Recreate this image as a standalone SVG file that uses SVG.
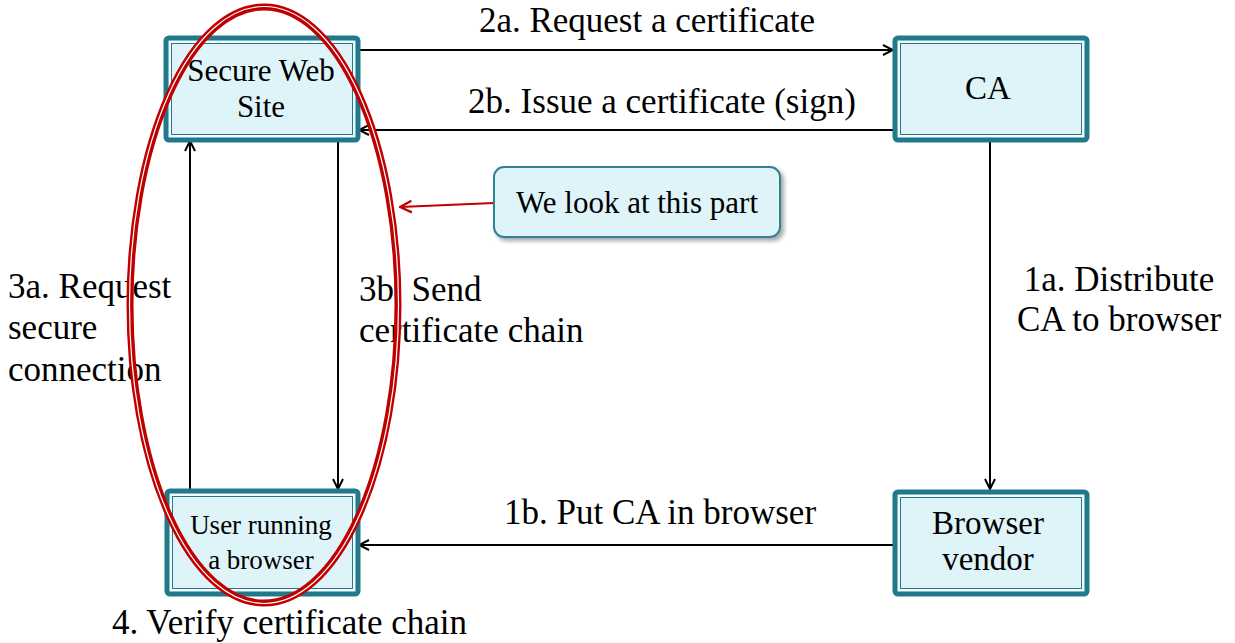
<svg xmlns="http://www.w3.org/2000/svg" width="1235" height="643" viewBox="0 0 1235 643">
  <style>
    text { font-family: 'Liberation Serif', 'DejaVu Serif', 'Times New Roman', serif; fill: #000; }
    .lbl { font-size: 35px; }
    .box-text { font-size: 31px; text-anchor: middle; }
    .outer { fill: #def4f9; stroke: #217a8c; stroke-width: 5; }
    .gap { fill: none; stroke: #ffffff; stroke-width: 1.5; }
    .inner { fill: none; stroke: #217a8c; stroke-width: 1; }
    .conn { stroke: #000; stroke-width: 2; fill: none; marker-end: url(#arrow); }
  </style>
  <defs>
    <marker id="arrow" viewBox="0 0 12 12" refX="11" refY="6" markerWidth="12" markerHeight="12" markerUnits="userSpaceOnUse" orient="auto">
      <path d="M1,1 L11,6 L1,11" fill="none" stroke="#000" stroke-width="2"/>
    </marker>
    <marker id="arrowRed" viewBox="0 0 12 12" refX="11" refY="6" markerWidth="14" markerHeight="14" markerUnits="userSpaceOnUse" orient="auto">
      <path d="M1,1 L11,6 L1,11" fill="none" stroke="#c00000" stroke-width="2"/>
    </marker>
    <filter id="shadow" x="-10%" y="-20%" width="130%" height="150%">
      <feDropShadow dx="3" dy="3" stdDeviation="2" flood-color="#000" flood-opacity="0.35"/>
    </filter>
  </defs>

  <!-- connectors -->
  <g id="connectors">
    <line class="conn" x1="359" y1="50" x2="893" y2="50"/>
    <line class="conn" x1="893" y1="130" x2="359" y2="130"/>
    <line class="conn" x1="990" y1="141" x2="990" y2="489"/>
    <line class="conn" x1="893" y1="545" x2="359" y2="545"/>
    <line class="conn" x1="190" y1="489" x2="190" y2="141"/>
    <line class="conn" x1="338" y1="141" x2="338" y2="489"/>
  </g>

  <!-- nodes -->
  <g id="secure-web-site">
    <rect class="outer" x="166" y="38" width="192" height="102" rx="3"/>
    <rect class="gap" x="170" y="42" width="184" height="94"/>
    <rect class="inner" x="171.5" y="43.5" width="181" height="91"/>
    <text class="box-text" x="261" y="81">Secure Web</text>
    <text class="box-text" x="261" y="117">Site</text>
  </g>

  <g id="ca">
    <rect class="outer" x="895" y="38" width="192" height="102" rx="3"/>
    <rect class="gap" x="899" y="42" width="184" height="94"/>
    <rect class="inner" x="900.5" y="43.5" width="181" height="91"/>
    <text class="box-text" x="988" y="99" style="font-size:33px">CA</text>
  </g>

  <g id="user-browser">
    <rect class="outer" x="167" y="491" width="191" height="103" rx="3"/>
    <rect class="gap" x="171" y="495" width="183" height="95"/>
    <rect class="inner" x="172.5" y="496.5" width="180" height="92"/>
    <text class="box-text" x="261" y="534" style="font-size:27px">User running</text>
    <text class="box-text" x="261" y="569" style="font-size:27px">a browser</text>
  </g>

  <g id="browser-vendor">
    <rect class="outer" x="895" y="492" width="192" height="102" rx="3"/>
    <rect class="gap" x="899" y="496" width="184" height="94"/>
    <rect class="inner" x="900.5" y="497.5" width="181" height="91"/>
    <text class="box-text" x="988" y="534" style="font-size:33px">Browser</text>
    <text class="box-text" x="988" y="570" style="font-size:33px">vendor</text>
  </g>

  <!-- connector labels -->
  <g id="labels">
    <text class="lbl" x="647" y="32" text-anchor="middle">2a. Request a certificate</text>
    <text class="lbl" x="662" y="113" text-anchor="middle">2b. Issue a certificate (sign)</text>
    <text class="lbl" x="1119" y="291" text-anchor="middle">1a. Distribute</text>
    <text class="lbl" x="1119" y="331" text-anchor="middle">CA to browser</text>
    <text class="lbl" x="660" y="524" text-anchor="middle">1b. Put CA in browser</text>
    <text class="lbl" x="8" y="298">3a. Request</text>
    <text class="lbl" x="8" y="339">secure</text>
    <text class="lbl" x="8" y="381">connection</text>
    <text class="lbl" x="359" y="301">3b. Send</text>
    <text class="lbl" x="359" y="342">certificate chain</text>
    <text class="lbl" x="112" y="634">4. Verify certificate chain</text>
  </g>

  <!-- highlight ellipse -->
  <g id="highlight">
    <ellipse cx="264" cy="305" rx="134" ry="298" fill="none" stroke="#c00000" stroke-width="7"/>
    <ellipse cx="264" cy="305" rx="134.5" ry="298.5" fill="none" stroke="#ffffff" stroke-width="1.2"/>
  </g>

  <!-- callout -->
  <g id="callout">
    <line x1="494" y1="203" x2="400" y2="207" stroke="#c00000" stroke-width="2" marker-end="url(#arrowRed)"/>
    <rect x="494" y="167" width="286" height="70" rx="10" fill="#def4f9" stroke="#2e8296" stroke-width="2" filter="url(#shadow)"/>
    <text class="box-text" x="637" y="213">We look at this part</text>
  </g>
</svg>
